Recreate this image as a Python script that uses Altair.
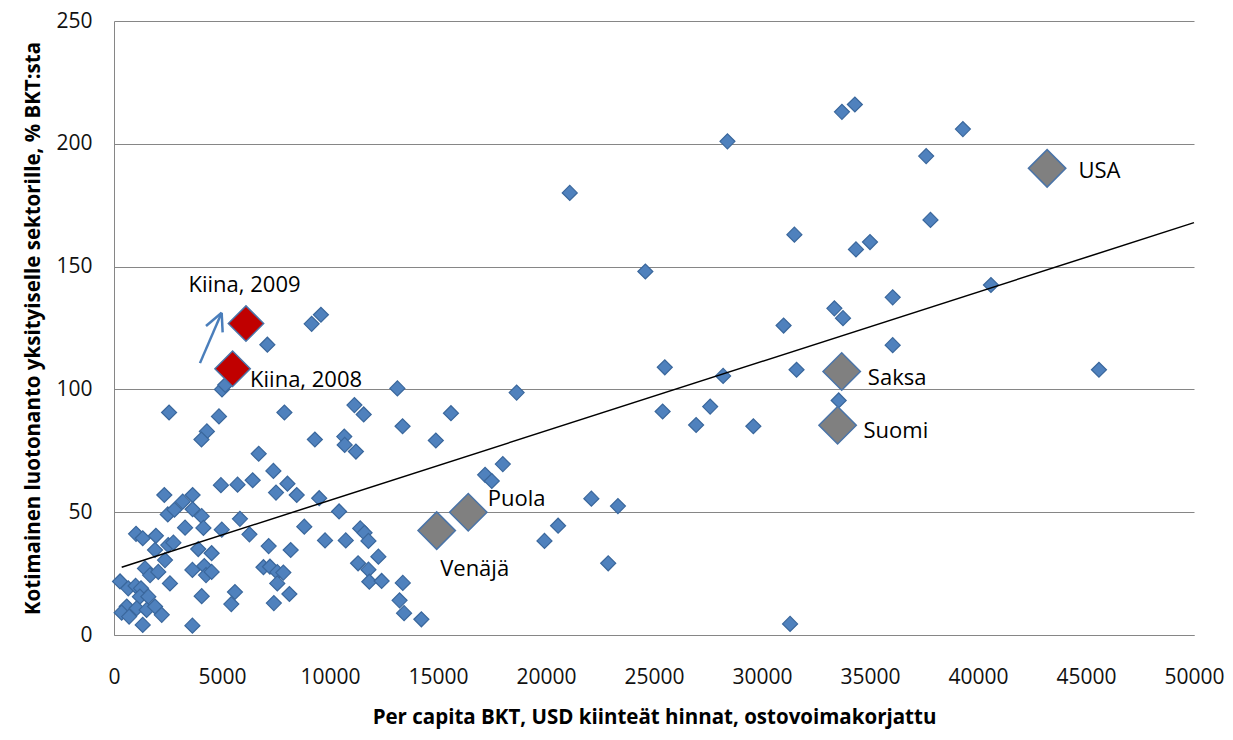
import altair as alt
import pandas as pd

# ---- data ----
blue_x = [21100, 28400, 33700, 34300, 39300, 37600, 37800, 31500, 34350, 35000,
          24600, 40600, 36050, 33350, 33750, 31000, 36050, 25500, 28200, 31600,
          45600, 33550, 25400, 27600, 26950, 29600, 22100, 23330, 20560, 19930,
          22880, 31300,
          18640, 15600, 14900, 18000, 17180, 17490, 13120, 13360, 11130, 11560,
          10660, 10680, 11200, 9150, 9580, 7100, 9300, 7890, 4860, 2550,
          5000, 5150, 4300, 4050, 6700, 7380, 4950, 5720, 6420, 8030,
          7500, 8460, 9500, 10420, 8810, 9770, 10730, 11400, 11600, 11780,
          12240, 11300, 11780, 11820, 12390, 13370, 13220, 13430, 14230, 7160,
          8180, 6920, 7220, 7560, 7840, 7560, 8120, 7400, 5600, 5430,
          2330, 3180, 3640, 2490, 2800, 3640, 4060, 5830, 4140, 4990,
          6270, 1020, 1330, 1940, 3290, 2510, 2750, 1900, 3900, 4520,
          2360, 1435, 1670, 2050, 3630, 4180, 4260, 4520, 2590, 280,
          660, 1000, 1250, 1200, 1590, 590, 355, 700, 1050, 1510,
          1900, 2210, 1330, 3630, 4060]
blue_y = [180, 201, 213, 216, 206, 195, 169, 163, 157, 160,
          148, 142.5, 137.5, 133, 129, 126, 118, 109, 105.5, 108,
          108, 95.5, 91, 93, 85.5, 85, 55.5, 52.5, 44.5, 38.3,
          29.2, 4.5,
          98.7, 90.3, 79.2, 69.6, 65.2, 62.7, 100.4, 85, 93.6, 89.8,
          80.8, 77.4, 74.7, 126.7, 130.4, 118.2, 79.6, 90.6, 89, 90.6,
          100, 101.8, 82.9, 79.6, 73.8, 66.8, 61, 61.2, 63, 61.6,
          58, 57, 55.7, 50.3, 44.1, 38.5, 38.5, 43.4, 41.6, 38.3,
          31.9, 29.2, 26.6, 21.7, 22, 21.2, 14.1, 8.9, 6.4, 36.2,
          34.6, 27.6, 27.8, 25.6, 25.4, 21, 16.7, 13, 17.5, 12.6,
          57, 54.3, 57, 49.1, 51, 51.2, 48.4, 47.3, 43.6, 42.9,
          41, 41.2, 39.4, 40.4, 43.7, 36.6, 37.6, 34.6, 35, 33.3,
          30.5, 27.1, 24.4, 25.7, 26.5, 28.1, 24.4, 25.7, 21, 21.8,
          19, 20, 19, 15.6, 15.6, 11.6, 9.1, 7.5, 10.9, 10.2,
          11.6, 8.2, 4.1, 3.8, 15.8]

gray_names = ["Venäjä", "Puola", "Saksa", "Suomi", "USA"]
gray_x = [14940, 16400, 33690, 33500, 43200]
gray_y = [42.5, 50, 107.3, 85.4, 190]

red_names = ["Kiina, 2009", "Kiina, 2008"]
red_x = [6110, 5490]
red_y = [126.8, 108.4]

trend_x = [356, 50000]
trend_y = [27.6, 167.9]

label_text = ["Kiina, 2009", "Kiina, 2008", "USA", "Saksa", "Suomi", "Puola", "Venäjä"]
label_x = [3450, 6300, 44650, 34900, 34700, 17300, 15100]
label_y = [142.5, 104.0, 189.0, 104.5, 83.0, 55.5, 27.0]

arrow_x = [3980, 4260, 5030]
arrow_y = [110.7, 125.8, 123.2]
arrow_x2 = [4985, 4985, 4985]
arrow_y2 = [131.2, 131.2, 131.2]

# ---- tables ----
blue_df = pd.DataFrame({"x": blue_x, "y": blue_y})
gray_df = pd.DataFrame({"name": gray_names, "x": gray_x, "y": gray_y})
red_df = pd.DataFrame({"name": red_names, "x": red_x, "y": red_y})
trend_df = pd.DataFrame({"x": trend_x, "y": trend_y})
label_df = pd.DataFrame({"t": label_text, "x": label_x, "y": label_y})
arrow_df = pd.DataFrame({"x": arrow_x, "y": arrow_y, "x2": arrow_x2, "y2": arrow_y2})

FONT = "Open Sans"

xscale = alt.Scale(domain=[0, 50000], nice=False, zero=False)
yscale = alt.Scale(domain=[0, 250], nice=False)

x_enc = alt.X("x:Q", scale=xscale,
              axis=alt.Axis(title="Per capita BKT, USD kiinteät hinnat, ostovoimakorjattu",
                            values=list(range(0, 50001, 5000)), format="d",
                            grid=False, ticks=False, labelPadding=31, labelFlush=False,
                            titlePadding=20, domainColor="#868686"))
y_enc = alt.Y("y:Q", scale=yscale,
              axis=alt.Axis(title="Kotimainen luotonanto yksityiselle sektorille, % BKT:sta",
                            values=[0, 50, 100, 150, 200, 250], grid=True,
                            ticks=False, labelPadding=22, titlePadding=12,
                            labelFlush=False, domainColor="#868686"))

blue = alt.Chart(blue_df).mark_point(
    shape="diamond", filled=True, size=225, fill="#4F81BD",
    stroke="#3A679C", strokeWidth=1.2, opacity=1
).encode(x=x_enc, y=y_enc)

trend = alt.Chart(trend_df).mark_line(color="black", strokeWidth=1.5).encode(
    x="x:Q", y="y:Q")

gray = alt.Chart(gray_df).mark_point(
    shape="diamond", filled=True, size=1400, fill="#808080",
    stroke="#4A74A8", strokeWidth=1.5, opacity=1
).encode(x="x:Q", y="y:Q")

red = alt.Chart(red_df).mark_point(
    shape="diamond", filled=True, size=1250, fill="#C00000",
    stroke="#4A74A8", strokeWidth=1.5, opacity=1
).encode(x="x:Q", y="y:Q")

labels = alt.Chart(label_df).mark_text(
    align="left", baseline="middle", font=FONT, fontSize=22, color="#000000"
).encode(x="x:Q", y="y:Q", text="t:N")

arrow = alt.Chart(arrow_df).mark_rule(color="#4A7EBB", strokeWidth=2.5).encode(
    x="x:Q", y="y:Q", x2="x2:Q", y2="y2:Q")

chart = alt.layer(blue, trend, gray, red, labels, arrow).properties(
    width=1080, height=614,
    autosize=alt.AutoSizeParams(type="none"),
    padding={"left": 106, "top": 13, "right": 31, "bottom": 95},
).configure_view(stroke=None).configure_axis(
    labelFont=FONT, labelFontSize=21, labelColor="#111111",
    titleFont=FONT, titleFontSize=20.5, titleFontWeight="bold", titleColor="#000000",
    gridColor="#868686", gridWidth=1, domainWidth=1
)

chart.save("out.html", embed_options={"renderer": "svg", "actions": False})
